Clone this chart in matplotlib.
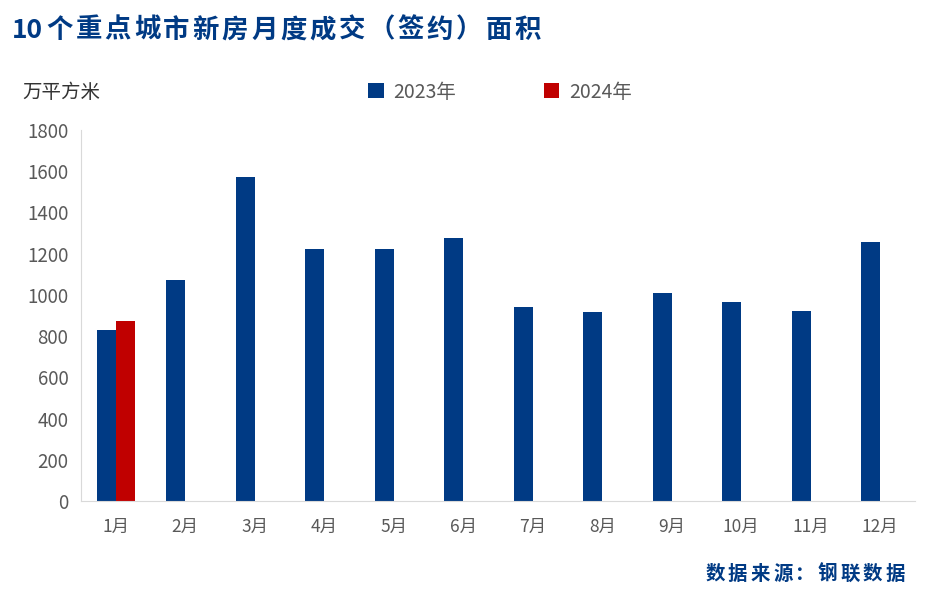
import numpy as np
import matplotlib.pyplot as plt

plt.rcParams['font.family'] = ['Noto Sans CJK SC', 'DejaVu Sans']

months = ['1月', '2月', '3月', '4月', '5月', '6月', '7月', '8月', '9月', '10月', '11月', '12月']
area_2023 = [830, 1072, 1572, 1223, 1223, 1276, 941, 917, 1009, 965, 922, 1257]
area_2024 = [873]

blue = '#003A84'
red = '#C00000'
grey = '#595959'

fig = plt.figure(figsize=(9.32, 5.92), dpi=100)
ax = fig.add_axes([81 / 932, 1 - 501 / 592, 834 / 932, 371 / 592])

x = np.arange(len(months))
w = 0.275
ax.bar(x - w / 2, area_2023, width=w, color=blue, label='2023年')
ax.bar(x[:len(area_2024)] + w / 2, area_2024, width=w, color=red, label='2024年')

ax.set_xlim(-0.5, len(months) - 0.5)
ax.set_ylim(0, 1800)
ax.set_yticks(range(0, 1801, 200))
ax.set_xticks(x)
ax.set_xticklabels(months)
ax.tick_params(axis='both', length=0, colors=grey)
ax.tick_params(axis='y', pad=9, labelsize=13.5)
ax.tick_params(axis='x', pad=12, labelsize=12.5)
for s in ['top', 'right']:
    ax.spines[s].set_visible(False)
for s in ['left', 'bottom']:
    ax.spines[s].set_color('#D9D9D9')

# spaced-out title like the original
title = '10个重点城市新房月度成交（签约）面积'
fig.text(12 / 932, 1 - 30 / 592, title[:2], fontsize=19, fontweight='bold',
         color=blue, va='center', ha='left')
for i, ch in enumerate(title[2:]):
    fig.text((46 + i * 29.3) / 932, 1 - 30 / 592, ch, fontsize=19, fontweight='bold',
             color=blue, va='center', ha='left')

fig.text(22 / 932, 1 - 92 / 592, '万平方米', fontsize=14, color='#333333',
         va='center', ha='left')

handles, labels = ax.get_legend_handles_labels()
fig.legend(handles, labels, loc='center', bbox_to_anchor=(500 / 932, 1 - 92 / 592),
           ncol=2, frameon=False, fontsize=14, handlelength=0.8, handleheight=0.8,
           columnspacing=4.5, handletextpad=0.5, labelcolor=grey)

source = '数据来源：钢联数据'
for i, ch in enumerate(source):
    fig.text((905 - (len(source) - 1 - i) * 22.5) / 932, 1 - 574 / 592, ch, fontsize=14,
             fontweight='bold', color=blue, va='center', ha='right')

fig.savefig('out.png', dpi=100)
